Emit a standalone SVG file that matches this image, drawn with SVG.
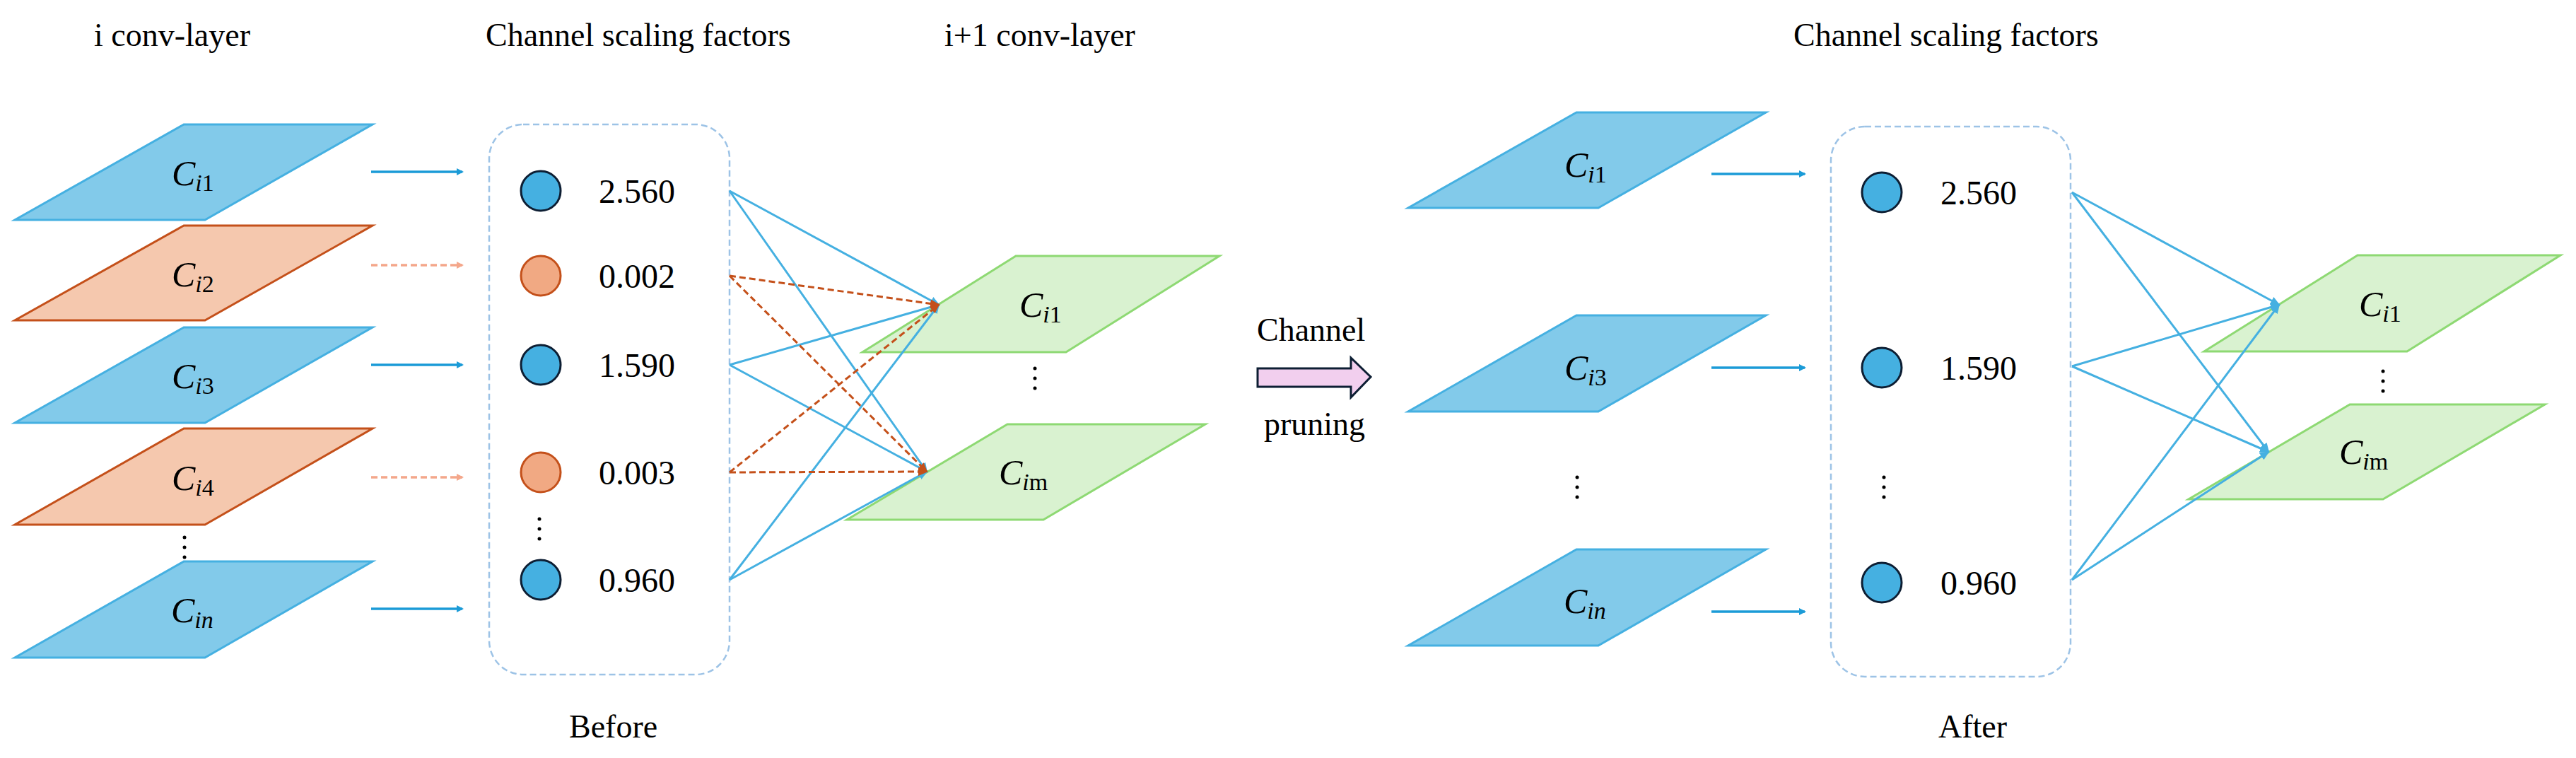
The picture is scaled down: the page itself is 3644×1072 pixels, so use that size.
<svg xmlns="http://www.w3.org/2000/svg" width="3644" height="1072" viewBox="0 0 3644 1072">
<style>
text{font-family:"Liberation Serif","Times New Roman",serif;fill:#000}
.t{font-size:46px}
.n{font-size:48px}
.lb{font-size:50px;font-style:italic}
.sub{font-size:34px}
.pb{fill:#82CAEA;stroke:#45B0E1;stroke-width:3}
.po{fill:#F5C8AE;stroke:#C4501A;stroke-width:3}
.pg{fill:#D9F2D0;stroke:#8ED973;stroke-width:3}
.cb{fill:#45B0E1;stroke:#0D1E33;stroke-width:3}
.co{fill:#F1A983;stroke:#C4501A;stroke-width:3}
.box{fill:none;stroke:#9DC3E6;stroke-width:2.5;stroke-dasharray:9 5}
.ab{stroke:#1B9BD7;stroke-width:3.5;fill:none}
.ad{stroke:#F4A78B;stroke-width:3.5;stroke-dasharray:9 5;fill:none}
.lc{stroke:#45B0E1;stroke-width:3;fill:none}
.ld{stroke:#C4501A;stroke-width:3;stroke-dasharray:9 5;fill:none}
.dot{fill:#000}
</style>
<defs>
<marker id="mb" markerWidth="10" markerHeight="10" refX="8" refY="5" orient="auto" markerUnits="userSpaceOnUse"><path d="M0,0 L10,5 L0,10 Z" fill="#1B9BD7"/></marker>
<marker id="md" markerWidth="10" markerHeight="10" refX="8" refY="5" orient="auto" markerUnits="userSpaceOnUse"><path d="M0,0 L10,5 L0,10 Z" fill="#F4A78B"/></marker>
<marker id="mc" markerWidth="14" markerHeight="12" refX="12" refY="6" orient="auto" markerUnits="userSpaceOnUse"><path d="M0,0 L14,6 L0,12 Z" fill="#45B0E1"/></marker>
<marker id="mo" markerWidth="14" markerHeight="12" refX="12" refY="6" orient="auto" markerUnits="userSpaceOnUse"><path d="M0,0 L14,6 L0,12 Z" fill="#C4501A"/></marker>
</defs>

<g id="titles">
<text class="t" x="133" y="65">i conv-layer</text>
<text class="t" x="687" y="65">Channel scaling factors</text>
<text class="t" x="1336" y="65">i+1 conv-layer</text>
<text class="t" x="2537" y="65">Channel scaling factors</text>
<text class="t" x="805" y="1043">Before</text>
<text class="t" x="2742" y="1043">After</text>
</g>

<g id="left-layers">
<g id="L-ci1"><polygon class="pb" points="260,176 527,176 290,311 21,311"/><text class="lb" x="243" y="262">C<tspan class="sub" dy="8">i</tspan><tspan class="sub" font-style="normal">1</tspan></text></g>
<g id="L-ci2"><polygon class="po" points="260,319 527,319 290,453 21,453"/><text class="lb" x="243" y="405">C<tspan class="sub" dy="8">i</tspan><tspan class="sub" font-style="normal">2</tspan></text></g>
<g id="L-ci3"><polygon class="pb" points="260,463 527,463 290,598 21,598"/><text class="lb" x="243" y="549">C<tspan class="sub" dy="8">i</tspan><tspan class="sub" font-style="normal">3</tspan></text></g>
<g id="L-ci4"><polygon class="po" points="260,606 527,606 290,742 21,742"/><text class="lb" x="243" y="693">C<tspan class="sub" dy="8">i</tspan><tspan class="sub" font-style="normal">4</tspan></text></g>
<g id="L-cin"><polygon class="pb" points="260,794 527,794 290,930 21,930"/><text class="lb" x="242" y="880">C<tspan class="sub" dy="8">in</tspan></text></g>
<g id="L-dots"><circle class="dot" cx="261" cy="760" r="2.5"/><circle class="dot" cx="261" cy="774" r="2.5"/><circle class="dot" cx="261" cy="788" r="2.5"/></g>
</g>

<g id="before-box">
<rect class="box" x="692" y="176" width="340" height="778" rx="48"/>
<g id="B1"><circle class="cb" cx="765" cy="270" r="28"/><text class="n" x="847" y="287">2.560</text></g>
<g id="B2"><circle class="co" cx="765" cy="390" r="28"/><text class="n" x="847" y="407">0.002</text></g>
<g id="B3"><circle class="cb" cx="765" cy="516" r="28"/><text class="n" x="847" y="533">1.590</text></g>
<g id="B4"><circle class="co" cx="765" cy="668" r="28"/><text class="n" x="847" y="685">0.003</text></g>
<g id="B5"><circle class="cb" cx="765" cy="820" r="28"/><text class="n" x="847" y="837">0.960</text></g>
<g id="B-dots"><circle class="dot" cx="763" cy="734" r="2.5"/><circle class="dot" cx="763" cy="748" r="2.5"/><circle class="dot" cx="763" cy="762" r="2.5"/></g>
</g>

<g id="next-layers-before">
<g id="N-ci1"><polygon class="pg" points="1437,362 1725,362 1508,498 1220,498"/><text class="lb" x="1442" y="448">C<tspan class="sub" dy="8">i</tspan><tspan class="sub" font-style="normal">1</tspan></text></g>
<g id="N-cim"><polygon class="pg" points="1425,600 1705,600 1476,735 1198,735"/><text class="lb" x="1413" y="685">C<tspan class="sub" dy="8">i</tspan><tspan class="sub" font-style="normal">m</tspan></text></g>
<g id="N-dots"><circle class="dot" cx="1464" cy="521" r="2.5"/><circle class="dot" cx="1464" cy="535" r="2.5"/><circle class="dot" cx="1464" cy="549" r="2.5"/></g>
</g>

<g id="pruning">
<text class="t" x="1778" y="482">Channel</text>
<text class="t" x="1788" y="615">pruning</text>
<polygon points="1779,521 1911,521 1911,506 1939,533 1911,562 1911,547 1779,547" fill="#F2CFEE" stroke="#0D1E33" stroke-width="3"/>
</g>

<g id="right-layers">
<g id="R-ci1"><polygon class="pb" points="2230,159 2498,159 2261,294 1992,294"/><text class="lb" x="2213" y="250">C<tspan class="sub" dy="8">i</tspan><tspan class="sub" font-style="normal">1</tspan></text></g>
<g id="R-ci3"><polygon class="pb" points="2230,446 2498,446 2261,582 1992,582"/><text class="lb" x="2213" y="537">C<tspan class="sub" dy="8">i</tspan><tspan class="sub" font-style="normal">3</tspan></text></g>
<g id="R-cin"><polygon class="pb" points="2230,777 2498,777 2261,913 1992,913"/><text class="lb" x="2212" y="867">C<tspan class="sub" dy="8">in</tspan></text></g>
<g id="R-dots"><circle class="dot" cx="2231" cy="675" r="2.5"/><circle class="dot" cx="2231" cy="689" r="2.5"/><circle class="dot" cx="2231" cy="703" r="2.5"/></g>
</g>

<g id="after-box">
<rect class="box" x="2590" y="179" width="339" height="778" rx="48"/>
<g id="A1"><circle class="cb" cx="2662" cy="272" r="28"/><text class="n" x="2745" y="289">2.560</text></g>
<g id="A3"><circle class="cb" cx="2662" cy="520" r="28"/><text class="n" x="2745" y="537">1.590</text></g>
<g id="A5"><circle class="cb" cx="2662" cy="824" r="28"/><text class="n" x="2745" y="841">0.960</text></g>
<g id="A-dots"><circle class="dot" cx="2665" cy="675" r="2.5"/><circle class="dot" cx="2665" cy="689" r="2.5"/><circle class="dot" cx="2665" cy="703" r="2.5"/></g>
</g>

<g id="next-layers-after">
<g id="M-ci1"><polygon class="pg" points="3335,361 3622,361 3405,497 3118,497"/><text class="lb" x="3337" y="447">C<tspan class="sub" dy="8">i</tspan><tspan class="sub" font-style="normal">1</tspan></text></g>
<g id="M-cim"><polygon class="pg" points="3324,572 3600,572 3371,706 3096,706"/><text class="lb" x="3309" y="656">C<tspan class="sub" dy="8">i</tspan><tspan class="sub" font-style="normal">m</tspan></text></g>
<g id="M-dots"><circle class="dot" cx="3371" cy="525" r="2.5"/><circle class="dot" cx="3371" cy="539" r="2.5"/><circle class="dot" cx="3371" cy="553" r="2.5"/></g>
</g>

<g id="connectors">
<line class="ab" x1="525" y1="243" x2="654" y2="243" marker-end="url(#mb)"/>
<line class="ad" x1="525" y1="375" x2="654" y2="375" marker-end="url(#md)"/>
<line class="ab" x1="525" y1="516" x2="654" y2="516" marker-end="url(#mb)"/>
<line class="ad" x1="525" y1="675" x2="654" y2="675" marker-end="url(#md)"/>
<line class="ab" x1="525" y1="861" x2="654" y2="861" marker-end="url(#mb)"/>

<line class="lc" x1="1032" y1="270" x2="1328" y2="431" marker-end="url(#mc)"/>
<line class="lc" x1="1032" y1="270" x2="1311" y2="667" marker-end="url(#mc)"/>
<line class="lc" x1="1032" y1="516" x2="1328" y2="431" marker-end="url(#mc)"/>
<line class="lc" x1="1032" y1="516" x2="1311" y2="667" marker-end="url(#mc)"/>
<line class="lc" x1="1032" y1="820" x2="1328" y2="431" marker-end="url(#mc)"/>
<line class="lc" x1="1032" y1="820" x2="1311" y2="667" marker-end="url(#mc)"/>
<line class="ld" x1="1032" y1="390" x2="1328" y2="431" marker-end="url(#mo)"/>
<line class="ld" x1="1032" y1="390" x2="1311" y2="667" marker-end="url(#mo)"/>
<line class="ld" x1="1032" y1="668" x2="1328" y2="431" marker-end="url(#mo)"/>
<line class="ld" x1="1032" y1="668" x2="1311" y2="667" marker-end="url(#mo)"/>

<line class="ab" x1="2421" y1="246" x2="2553" y2="246" marker-end="url(#mb)"/>
<line class="ab" x1="2421" y1="520" x2="2553" y2="520" marker-end="url(#mb)"/>
<line class="ab" x1="2421" y1="865" x2="2553" y2="865" marker-end="url(#mb)"/>

<line class="lc" x1="2931" y1="272" x2="3224" y2="431" marker-end="url(#mc)"/>
<line class="lc" x1="2931" y1="272" x2="3209" y2="639" marker-end="url(#mc)"/>
<line class="lc" x1="2931" y1="518" x2="3224" y2="431" marker-end="url(#mc)"/>
<line class="lc" x1="2931" y1="518" x2="3209" y2="639" marker-end="url(#mc)"/>
<line class="lc" x1="2931" y1="820" x2="3224" y2="431" marker-end="url(#mc)"/>
<line class="lc" x1="2931" y1="820" x2="3209" y2="639" marker-end="url(#mc)"/>
</g>
</svg>
